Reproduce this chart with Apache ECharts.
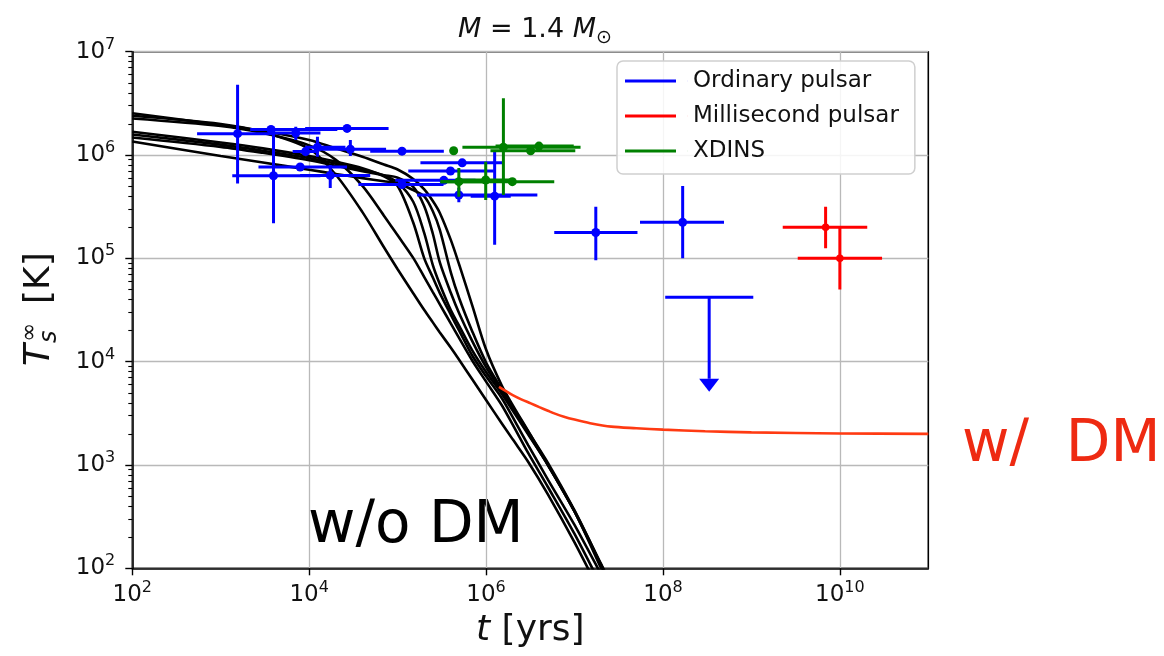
<!DOCTYPE html>
<html>
<head>
<meta charset="utf-8">
<script src="https://cdn.jsdelivr.net/npm/echarts@6/dist/echarts.min.js"></script>
<style>
  html, body { margin: 0; padding: 0; background: #ffffff; }
  #chart { width: 1164px; height: 656px; }
</style>
</head>
<body>
<div id="chart"></div>
<script>
// Neutron-star cooling: surface temperature seen at infinity vs. age, M = 1.4 Msun.

// Shared age grid (years) for the standard cooling curves
const ages = [1e2, 1e3, 3e3, 1e4, 2e4, 4e4, 7e4, 1e5, 1.5e5, 2e5, 2.5e5, 3e5, 4e5, 5e5, 7e5, 1e6, 1.5e6, 2e6, 3e6, 5e6, 1e7, 2e7, 3e7];

// Standard cooling curves without dark matter heating (K)
const curve1 = [2.40e6, 2.00e6, 1.67e6, 1.15e6, 6.44e5, 2.80e5, 1.28e5, 7.85e4, 4.60e4, 3.16e4, 2.40e4, 1.92e4, 1.36e4, 1.03e4, 6.71e3, 4.25e3, 2.54e3, 1.77e3, 1.07e3, 520, 178, 56, 28];
const curve2 = [2.26e6, 1.91e6, 1.63e6, 1.24e6, 8.98e5, 5.02e5, 2.59e5, 1.67e5, 1.01e5, 6.58e4, 4.71e4, 3.59e4, 2.33e4, 1.67e4, 1.02e4, 6.41e3, 3.81e3, 2.46e3, 1.30e3, 612, 215, 68, 35];
const curve3 = [1.68e6, 1.32e6, 1.16e6, 9.77e5, 8.63e5, 7.46e5, 6.21e5, 5.01e5, 2.22e5, 1.00e5, 6.52e4, 4.61e4, 2.84e4, 1.97e4, 1.14e4, 7.21e3, 4.45e3, 2.90e3, 1.55e3, 723, 263, 87, 45];
const curve4 = [1.58e6, 1.26e6, 1.10e6, 9.33e5, 8.24e5, 7.20e5, 6.35e5, 5.43e5, 3.53e5, 1.75e5, 8.61e4, 5.62e4, 3.14e4, 2.20e4, 1.28e4, 7.94e3, 4.89e3, 3.37e3, 1.97e3, 1.00e3, 355, 109, 55];
const curve5 = [1.48e6, 1.20e6, 1.05e6, 8.91e5, 7.87e5, 6.98e5, 6.38e5, 6.03e5, 4.92e5, 3.20e5, 1.73e5, 9.12e4, 4.61e4, 2.89e4, 1.57e4, 8.85e3, 5.15e3, 3.49e3, 2.01e3, 1.00e3, 355, 105, 51];
const curve6 = [1.35e6, 9.77e5, 8.47e5, 7.19e5, 6.56e5, 5.98e5, 5.57e5, 5.32e5, 4.57e5, 3.98e5, 2.86e5, 1.89e5, 7.28e4, 4.04e4, 1.95e4, 9.82e3, 5.43e3, 3.66e3, 2.10e3, 1.05e3, 363, 109, 54];
const curve7 = [2.54e6, 1.95e6, 1.71e6, 1.40e6, 1.16e6, 9.64e5, 8.09e5, 7.24e5, 5.87e5, 4.65e5, 3.59e5, 2.75e5, 1.50e5, 8.53e4, 3.47e4, 1.31e4, 5.90e3, 3.80e3, 2.12e3, 1.01e3, 355, 100, 47];

// Late-time curve with dark matter heating
const dmAges  = [1.4e6, 1.7e6, 2e6, 2.5e6, 3.2e6, 4e6, 5e6, 6e6, 7.6e6, 1e7, 1.5e7, 2.6e7, 5e7, 1e8, 3e8, 1e9, 1e10, 1e11];
const dmTemps = [5.7e3, 5.15e3, 4.75e3, 4.32e3, 3.95e3, 3.63e3, 3.35e3, 3.14e3, 2.93e3, 2.75e3, 2.54e3, 2.35e3, 2.27e3, 2.2e3, 2.12e3, 2.07e3, 2.02e3, 2.0e3];

// Observations: [age, T, ageLow, ageHigh, TLow, THigh]
const ordinaryPulsars = [
  [1.55e3, 1.61e6, 5.4e2, 3.8e3, 5.3e5, 4.8e6],
  [3.7e3, 1.77e6, 2.15e3, 2.08e4, 1.65e6, 1.9e6],
  [3.95e3, 6.3e5, 1.35e3, 1.34e4, 2.18e5, 1.75e6],
  [7.05e3, 1.63e6, 4.1e3, 1.34e4, 1.40e6, 1.88e6],
  [2.68e4, 1.81e6, 9.0e3, 7.9e4, 1.73e6, 1.9e6],
  [9.1e3, 1.08e6, 6.5e3, 1.26e4, 1.02e6, 1.15e6],
  [1.24e4, 1.19e6, 9.0e3, 2.57e4, 9.6e5, 1.50e6],
  [2.92e4, 1.14e6, 1.26e4, 7.4e4, 9.8e5, 1.40e6],
  [1.12e5, 1.09e6, 4.9e4, 3.33e5, 1.04e6, 1.15e6],
  [7.9e3, 7.65e5, 2.67e3, 2.68e4, 7.3e5, 8.0e5],
  [1.73e4, 6.35e5, 7.9e3, 4.9e4, 4.8e5, 8.0e5],
  [1.12e5, 5.18e5, 3.6e4, 3.3e5, 4.95e5, 5.4e5],
  [5.37e5, 8.4e5, 1.81e5, 1.52e6, 8.1e5, 8.7e5],
  [3.96e5, 7.0e5, 1.32e5, 1.22e6, 6.75e5, 7.25e5],
  [3.33e5, 5.69e5, 9.4e4, 7.6e5, 5.5e5, 5.9e5],
  [4.92e5, 4.1e5, 1.66e5, 3.8e6, 3.5e5, 4.8e5],
  [1.25e6, 4.0e5, 6.7e5, 1.9e6, 1.35e5, 1.08e6],
  [1.74e7, 1.78e5, 5.9e6, 5.15e7, 9.6e4, 3.16e5],
  [1.67e8, 2.23e5, 5.5e7, 4.9e8, 1.0e5, 5.0e5]
];
// Upper limit: [age, T limit, ageLow, ageHigh, arrow tip]
const ordinaryUpperLimits = [
  [3.33e8, 4.2e4, 1.06e8, 1.05e9, 5.1e3]
];
const millisecondPulsars = [
  [6.9e9, 2.0e5, 2.26e9, 2.04e10, 1.25e5, 3.16e5],
  [1.0e10, 1.0e5, 3.34e9, 3.0e10, 5.0e4, 2.0e5]
];
const xdins = [
  [4.3e5, 1.1e6, 4.3e5, 4.3e5, 1.1e6, 1.1e6],
  [1.57e6, 1.19e6, 5.4e5, 1.17e7, 4.1e5, 3.54e6],
  [3.19e6, 1.1e6, 1.12e6, 1.02e7, 1.06e6, 1.14e6],
  [3.96e6, 1.22e6, 1.28e6, 9.8e6, 1.18e6, 1.26e6],
  [4.92e5, 5.52e5, 3.05e5, 9.9e5, 3.95e5, 7.5e5],
  [9.9e5, 5.73e5, 5.1e5, 1.9e6, 3.66e5, 8.6e5],
  [1.98e6, 5.52e5, 3.05e5, 5.9e6, 5.3e5, 5.75e5]
];

// Axis ticks
const xTicks = [1e2, 1e4, 1e6, 1e8, 1e10];
const yTicks = [1e2, 1e3, 1e4, 1e5, 1e6, 1e7];
const yMinorTicks = [];
for (let d = 2; d < 7; d++) {
  for (let m = 2; m <= 9; m++) yMinorTicks.push(m * Math.pow(10, d));
}

const FONT = 'DejaVu Sans';
const INK = '#111111';
const BLUE = '#0000ff';
const RED = '#ff0000';
const GREEN = '#008000';

function powerLabel(v) {
  const e = Math.round(Math.log10(v));
  return '{b|10}{s|' + e + '}';
}
const powerRich = {
  b: { fontSize: 23, lineHeight: 30, fontFamily: FONT, color: INK },
  s: { fontSize: 16, lineHeight: 17, verticalAlign: 'top', fontFamily: FONT, color: INK }
};

function errorBars(color, radius, width) {
  return function (params, api) {
    const t = api.value(0), T = api.value(1);
    const c = api.coord([t, T]);
    const l = api.coord([api.value(2), T]);
    const r = api.coord([api.value(3), T]);
    const lo = api.coord([t, api.value(4)]);
    const hi = api.coord([t, api.value(5)]);
    const st = { stroke: color, lineWidth: width, lineCap: 'butt' };
    return {
      type: 'group',
      children: [
        { type: 'line', shape: { x1: l[0], y1: c[1], x2: r[0], y2: c[1] }, style: st },
        { type: 'line', shape: { x1: c[0], y1: hi[1], x2: c[0], y2: lo[1] }, style: st },
        { type: 'circle', shape: { cx: c[0], cy: c[1], r: radius }, style: { fill: color } }
      ]
    };
  };
}

function upperLimitArrow(params, api) {
  const t = api.value(0), T = api.value(1);
  const c = api.coord([t, T]);
  const l = api.coord([api.value(2), T]);
  const r = api.coord([api.value(3), T]);
  const tip = api.coord([t, api.value(4)]);
  const head = 13, half = 10;
  const st = { stroke: BLUE, lineWidth: 3 };
  return {
    type: 'group',
    children: [
      { type: 'line', shape: { x1: l[0], y1: c[1], x2: r[0], y2: c[1] }, style: st },
      { type: 'line', shape: { x1: c[0], y1: c[1], x2: c[0], y2: tip[1] - head }, style: st },
      { type: 'polygon', shape: { points: [[c[0] - half, tip[1] - head], [c[0] + half, tip[1] - head], [c[0], tip[1]]] }, style: { fill: BLUE } }
    ]
  };
}

const curves = [curve1, curve2, curve3, curve4, curve5, curve6, curve7];
const curveSeries = curves.map((temps, k) => ({
  name: 'cooling ' + (k + 1),
  type: 'line',
  data: ages.map((a, i) => [a, temps[i]]),
  showSymbol: false,
  smooth: 0.3,
  clip: true,
  silent: true,
  lineStyle: { color: '#000000', width: 2.6 },
  z: 2
}));

const chart = echarts.init(document.getElementById('chart'), null, { renderer: 'canvas' });

chart.setOption({
  animation: false,
  backgroundColor: '#ffffff',
  title: {
    text: '{it|M} = 1.4 {it|M}{sub|\u2299}',
    left: 530,
    top: 7,
    textAlign: 'center',
    textStyle: {
      fontSize: 27, fontFamily: FONT, fontWeight: 'normal', color: INK, lineHeight: 36,
      rich: {
        it: { fontSize: 27, fontStyle: 'italic', fontFamily: FONT, color: INK, lineHeight: 36 },
        sub: { fontSize: 19, fontFamily: FONT, color: INK, lineHeight: 22, verticalAlign: 'bottom' }
      }
    }
  },
  grid: {
    left: 132.3, right: 235.7, top: 51.7, bottom: 87.7,
    show: true, borderColor: '#000000', borderWidth: 1.6, backgroundColor: 'transparent'
  },
  legend: {
    orient: 'vertical',
    left: 617,
    top: 61,
    padding: [6, 16, 9, 8],
    itemGap: 7,
    itemWidth: 63,
    itemHeight: 3.5,
    icon: 'path://M0,0H51V3H0ZM62.95,0H63V3H62.95Z',
    backgroundColor: 'rgba(255,255,255,0.85)',
    borderColor: '#cfcfcf',
    borderWidth: 1.5,
    borderRadius: 6,
    textStyle: { fontSize: 23, fontFamily: FONT, color: INK, lineHeight: 28 },
    data: [
      { name: 'Ordinary pulsar', itemStyle: { color: BLUE } },
      { name: 'Millisecond pulsar', itemStyle: { color: RED } },
      { name: 'XDINS', itemStyle: { color: GREEN } }
    ],
    selectedMode: false
  },
  xAxis: {
    type: 'log',
    logBase: 10,
    min: 1e2,
    max: 1e11,
    interval: 2,
    name: '{it|t} [yrs]',
    nameLocation: 'middle',
    nameGap: 44,
    nameTextStyle: {
      fontSize: 36, fontFamily: FONT, color: INK,
      rich: { it: { fontSize: 36, fontStyle: 'italic', fontFamily: FONT, color: INK } }
    },
    axisLine: { show: true, onZero: false, lineStyle: { color: '#000000', width: 1.6 } },
    axisTick: { show: true, length: 7, inside: false, lineStyle: { color: '#000000', width: 1.4 }, customValues: xTicks },
    axisLabel: { margin: 12, formatter: powerLabel, rich: powerRich, customValues: xTicks },
    splitLine: { show: true, lineStyle: { color: '#b9b9b9', width: 1.3 } },
    minorTick: { show: false }
  },
  yAxis: [
    {
      type: 'log',
      logBase: 10,
      min: 1e2,
      max: 1e7,
      interval: 1,
      axisLine: { show: true, onZero: false, lineStyle: { color: '#000000', width: 1.6 } },
      axisTick: { show: true, length: 7, lineStyle: { color: '#000000', width: 1.4 }, customValues: yTicks },
      axisLabel: { margin: 17, formatter: powerLabel, rich: powerRich, customValues: yTicks },
      splitLine: { show: true, lineStyle: { color: '#b9b9b9', width: 1.3 } }
    },
    {
      type: 'log',
      logBase: 10,
      min: 1e2,
      max: 1e7,
      position: 'left',
      axisLine: { show: false },
      axisLabel: { show: false },
      splitLine: { show: false },
      axisTick: { show: true, length: 4, lineStyle: { color: '#000000', width: 1.1 }, customValues: yMinorTicks }
    }
  ],
  graphic: [
    {
      type: 'group',
      x: 40,
      y: 366,
      rotation: Math.PI / 2,
      children: [
        { type: 'text', x: 0, y: 0, style: { text: 'T', fontSize: 36, fontStyle: 'italic', fontFamily: FONT, fill: INK, align: 'left', verticalAlign: 'middle' } },
        { type: 'text', x: 24, y: -10, style: { text: '\u221e', fontSize: 23, fontFamily: FONT, fill: INK, align: 'left', verticalAlign: 'middle' } },
        { type: 'text', x: 23, y: 10, style: { text: 's', fontSize: 24, fontStyle: 'italic', fontFamily: FONT, fill: INK, align: 'left', verticalAlign: 'middle' } },
        { type: 'text', x: 62, y: 0, style: { text: '[K]', fontSize: 36, fontFamily: FONT, fill: INK, align: 'left', verticalAlign: 'middle' } }
      ]
    },
    {
      type: 'text', left: 308, top: 498,
      style: { text: 'w/o DM', fontSize: 58, fontFamily: FONT, fill: '#000000' }
    },
    {
      type: 'text', left: 962, top: 417,
      style: { text: 'w/  DM', fontSize: 58, fontFamily: FONT, fill: '#ee2a12' }
    }
  ],
  series: curveSeries.concat([
    {
      name: 'with DM',
      type: 'line',
      data: dmAges.map((a, i) => [a, dmTemps[i]]),
      showSymbol: false,
      smooth: 0.3,
      silent: true,
      lineStyle: { color: '#ff3a12', width: 2.6 },
      z: 2
    },
    {
      name: 'Ordinary pulsar',
      type: 'custom',
      renderItem: errorBars(BLUE, 4.5, 3),
      data: ordinaryPulsars,
      encode: { x: 0, y: 1 },
      itemStyle: { color: BLUE },
      clip: true,
      silent: true,
      z: 3
    },
    {
      name: 'Ordinary pulsar',
      type: 'custom',
      renderItem: upperLimitArrow,
      data: ordinaryUpperLimits,
      encode: { x: 0, y: 1 },
      itemStyle: { color: BLUE },
      clip: true,
      silent: true,
      z: 3
    },
    {
      name: 'XDINS',
      type: 'custom',
      renderItem: errorBars(GREEN, 4.5, 3),
      data: xdins,
      encode: { x: 0, y: 1 },
      itemStyle: { color: GREEN },
      clip: true,
      silent: true,
      z: 3
    },
    {
      name: 'Millisecond pulsar',
      type: 'custom',
      renderItem: errorBars(RED, 3.8, 3),
      data: millisecondPulsars,
      encode: { x: 0, y: 1 },
      itemStyle: { color: RED },
      clip: true,
      silent: true,
      z: 3
    }
  ])
});
</script>
</body>
</html>
